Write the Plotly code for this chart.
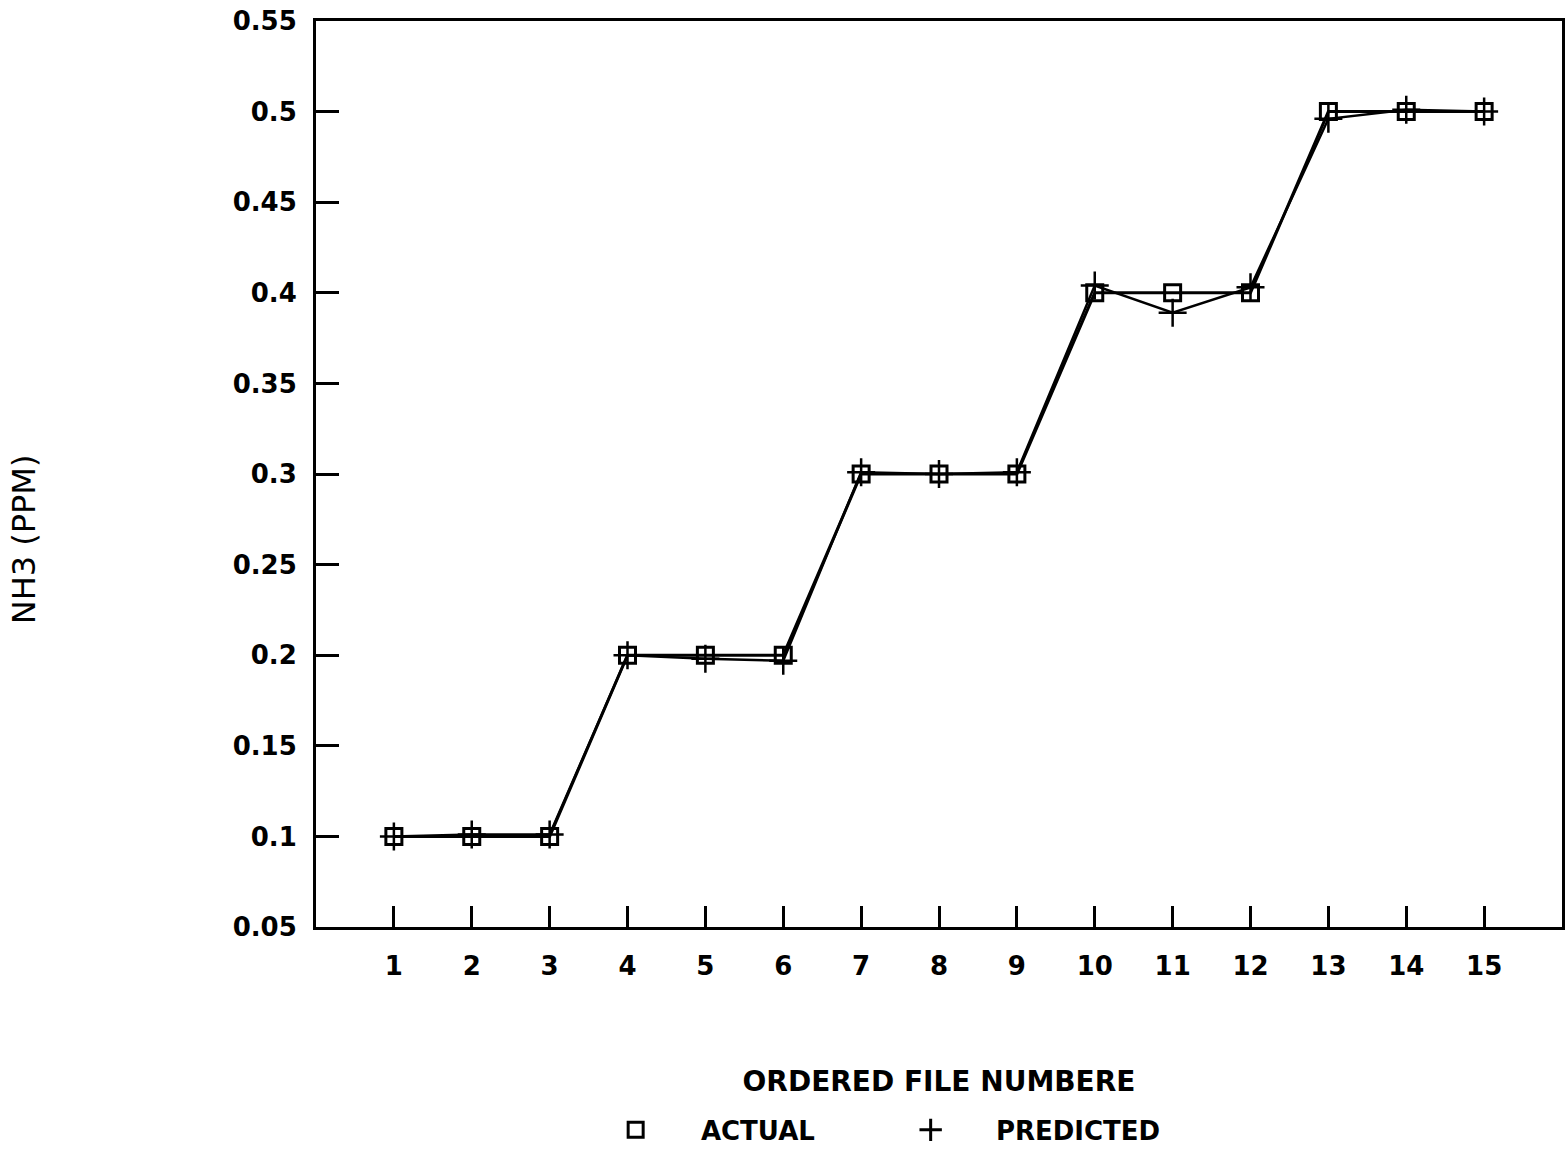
import plotly.graph_objects as go

file_numbers = list(range(1, 16))
actual = [0.1, 0.1, 0.1, 0.2, 0.2, 0.2, 0.3, 0.3, 0.3, 0.4, 0.4, 0.4, 0.5, 0.5, 0.5]
predicted = [0.1, 0.101, 0.101, 0.2, 0.198, 0.197, 0.301, 0.3, 0.301,
             0.404, 0.389, 0.403, 0.496, 0.501, 0.5]
y_ticks = [0.05, 0.1, 0.15, 0.2, 0.25, 0.3, 0.35, 0.4, 0.45, 0.5, 0.55]
y_tick_labels = ["0.05", "0.1", "0.15", "0.2", "0.25", "0.3", "0.35", "0.4", "0.45", "0.5", "0.55"]
x_title = "ORDERED FILE NUMBERE"
y_title = "NH3 (PPM)"

FONT = "DejaVu Sans"
NBSP = "\u00a0"

def f(size, weight="bold"):
    return dict(family=FONT, size=size, color="black", weight=weight)

fig = go.Figure()
fig.add_trace(go.Scatter(
    x=file_numbers, y=actual, mode="lines+markers", name="ACTUAL",
    line=dict(color="black", width=3),
    marker=dict(symbol="square-open", size=16, color="black", line=dict(width=3, color="black")),
    showlegend=False,
))
fig.add_trace(go.Scatter(
    x=file_numbers, y=predicted, mode="lines+markers", name="PREDICTED",
    line=dict(color="black", width=2.5),
    marker=dict(symbol="cross-thin", size=20, color="black", line=dict(width=2.5, color="black")),
    showlegend=False,
))
# legend entries (marker only, as in the reference)
fig.add_trace(go.Scatter(
    x=[None], y=[None], mode="markers", name=NBSP * 5 + "ACTUAL",
    marker=dict(symbol="square-open", size=15, color="black", line=dict(width=3, color="black")),
))
fig.add_trace(go.Scatter(
    x=[None], y=[None], mode="markers", name=NBSP * 5 + "PREDICTED",
    marker=dict(symbol="cross-thin", size=20, color="black", line=dict(width=3, color="black")),
))

fig.update_layout(
    width=1567, height=1158,
    margin=dict(l=316, r=5, t=21, b=211),
    paper_bgcolor="white", plot_bgcolor="white",
    font=f(26),
    showlegend=True,
    legend=dict(
        orientation="h", x=0.2405, xanchor="left", y=-0.224, yanchor="middle",
        font=f(26),
        entrywidth=250, entrywidthmode="pixels", itemwidth=30,
        bgcolor="rgba(0,0,0,0)",
    ),
    annotations=[dict(
        text=y_title, textangle=-90, xref="paper", yref="paper",
        x=-0.2343, y=0.428, xanchor="center", yanchor="middle",
        showarrow=False, font=f(32, "normal"),
    )],
)
fig.update_xaxes(
    range=[0, 16], tickmode="array", tickvals=file_numbers,
    ticktext=[str(v) for v in file_numbers],
    ticks="inside", ticklen=21, tickwidth=3, tickcolor="black",
    showline=True, linewidth=3, linecolor="black", mirror=True,
    showgrid=False, zeroline=False, ticklabelstandoff=14, automargin=False,
    tickfont=f(26), ticklabeloverflow="allow",
    title=dict(text=x_title, standoff=92, font=f(28)),
)
fig.update_yaxes(
    range=[0.05, 0.55], tickmode="array", tickvals=y_ticks, ticktext=y_tick_labels,
    ticks="inside", ticklen=23, tickwidth=3, tickcolor="black",
    showline=True, linewidth=3, linecolor="black", mirror=True,
    showgrid=False, zeroline=False, ticklabelstandoff=11, automargin=False,
    tickfont=f(26), ticklabeloverflow="allow",
)

fig.write_html("out.html", config={"displayModeBar": False},
               post_script="document.body.style.margin='0';")
